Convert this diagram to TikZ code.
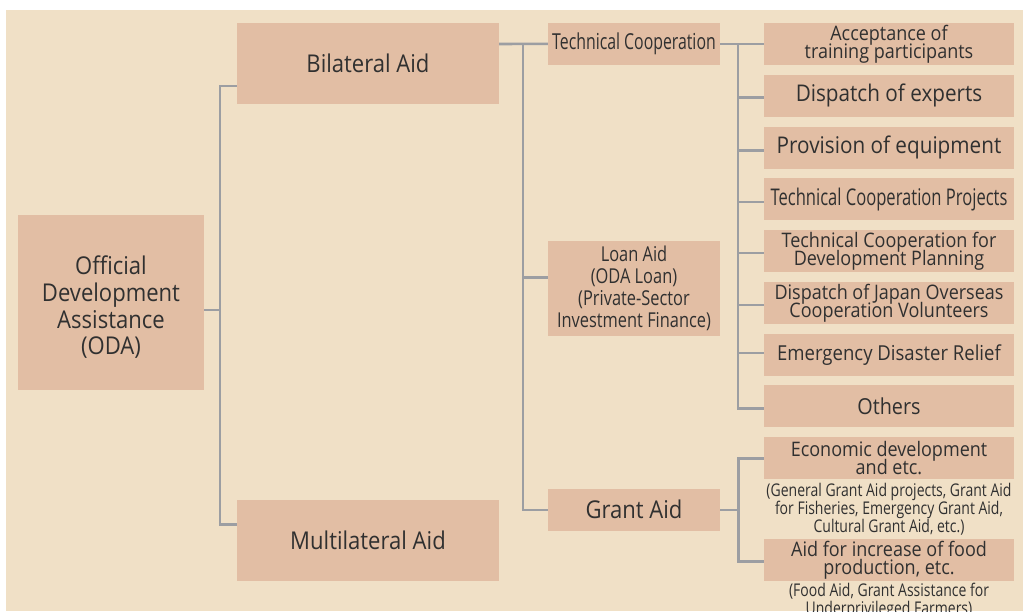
\documentclass[tikz,border=0pt]{standalone}
\usepackage{fontspec}
\setmainfont{Open Sans}[FakeStretch=0.9]
\newfontfamily\condfont{Open Sans}[FakeStretch=0.72]
\newfontfamily\notefont{Open Sans}[FakeStretch=0.8]

\definecolor{pagebg}{HTML}{F0E0C6}
\definecolor{boxfill}{HTML}{E2BEA4}
\definecolor{linec}{HTML}{9C9EA2}
\definecolor{txt}{HTML}{303030}

% fixed line spacing, even when ascenders and descenders collide
\newcommand{\tightlines}{\lineskiplimit=-40pt\lineskip=0pt}

\tikzset{
  box/.style={fill=boxfill, draw=none, inner sep=0pt, text=txt, align=center},
  lbox/.style={box, minimum width=262pt, minimum height=81pt},
  mbox/.style={box, minimum width=172pt},
  rbox/.style={box, minimum width=250pt, minimum height=41.7pt},
  note/.style={inner sep=0pt, text=txt, align=center},
  bigtext/.style={font=\fontsize{24.5}{26.7}\selectfont\tightlines},
  medtext/.style={font=\fontsize{23}{24}\selectfont},
  pairtext/.style={font=\fontsize{20}{18}\selectfont\tightlines},
  condtext/.style={font=\condfont\fontsize{22}{22}\selectfont},
  loantext/.style={font=\notefont\fontsize{20.5}{21.7}\selectfont\tightlines},
  notetext/.style={font=\notefont\fontsize{17.5}{18}\selectfont\tightlines},
  conn/.style={draw=linec, line width=2.6pt}
}

\begin{document}
\begin{tikzpicture}[x=1pt,y=-1pt]
\useasboundingbox (0,0) rectangle (1023,611);
\fill[white] (0,0) rectangle (1023,611);
\fill[pagebg] (6,10) rectangle (1023,611);

% root
\node[box, minimum width=186pt, minimum height=175pt] (oda) at (111,302.5) {};
\node[note, bigtext] (odatext) at ([yshift=-5pt]oda.center)
  {Official\\Development\\Assistance\\(ODA)};

% first level
\node[lbox, bigtext] (bil) at (368,63.5) {Bilateral Aid};
\node[lbox, bigtext] (mul) at (368,540.3) {Multilateral Aid};

% second level
\node[mbox, condtext, minimum height=41.7pt] (tc) at (634,43.8) {Technical Cooperation};
\node[mbox, loantext, minimum height=94.7pt] (loan) at (634,288.3)
  {Loan Aid\\(ODA Loan)\\(Private-Sector\\Investment Finance)};
\node[mbox, bigtext, minimum height=41.7pt] (grant) at (634,509.8) {Grant Aid};

% technical cooperation schemes
\node[rbox, pairtext] (acc) at (889,43.8) {Acceptance of\\training participants};
\node[rbox, medtext] (exp) at (889,95.8) {Dispatch of experts};
\node[rbox, font=\condfont\fontsize{23}{23}\selectfont] (tcp) at (889,199.1) {Technical Cooperation Projects};
\node[rbox, medtext] (equ) at (889,147.8) {Provision of equipment};
\node[rbox, pairtext] (tcdp) at (889,250.8) {Technical Cooperation for\\Development Planning};
\node[rbox, pairtext] (jocv) at (889,302.8) {Dispatch of Japan Overseas\\Cooperation Volunteers};
\node[rbox, font=\fontsize{20.6}{22}\selectfont] (emg) at (889,354.8) {Emergency Disaster Relief};
\node[rbox, font=\fontsize{22}{22}\selectfont] (oth) at (889,405.8) {Others};

% grant aid schemes
\node[rbox, pairtext] (eco) at (889,458) {Economic development\\and etc.};
\node[note, notetext] (econote) at (889,509)
  {(General Grant Aid projects, Grant Aid\\for Fisheries, Emergency Grant Aid,\\Cultural Grant Aid, etc.)};
\node[rbox, pairtext] (food) at (889,559.9) {Aid for increase of food\\production, etc.};
\node[note, notetext] (foodnote) at (889,601)
  {(Food Aid, Grant Assistance for\\Underprivileged Farmers)};

% attachment points and junctions of the trunks
\coordinate (odaout) at ([yshift=-7.5pt]oda.east);
\coordinate (bilin) at ([yshift=-22.5pt]bil.west);
\coordinate (mulin) at ([yshift=16pt]mul.west);
\coordinate (bilout) at ([yshift=19.5pt]bil.east);
\coordinate (loanin) at ([yshift=11pt]loan.west);
\coordinate (j1) at (219.8,310);
\coordinate (j2) at (523,43.8);
\coordinate (j3) at (738,43.8);
\coordinate (j4) at (738.5,509.8);

\coordinate (expin) at ([yshift=-1.5pt]exp.west);
\coordinate (equin) at ([yshift=-2.5pt]equ.west);
\coordinate (tcpin) at ([yshift=-3pt]tcp.west);
\coordinate (tcdpin) at ([yshift=-2pt]tcdp.west);
\coordinate (jocvin) at ([yshift=-2pt]jocv.west);
\coordinate (emgin) at ([yshift=2pt]emg.west);
\coordinate (othin) at ([yshift=-2.9pt]oth.west);
\coordinate (ecoin) at ([yshift=-0.3pt]eco.west);
\coordinate (foodin) at ([yshift=-1.8pt]food.west);

% ODA -> bilateral / multilateral
\draw[conn] (odaout) -- (j1);
\draw[conn] (bilin) -| (j1) |- (mulin);

% bilateral -> technical cooperation, loan aid, grant aid
\draw[conn] (bilout) -- (tc.west);
\draw[conn] (j2) |- (grant.west);
\draw[conn] (j2 |- loanin) -- (loanin);

% technical cooperation -> schemes
\draw[conn] (tc.east) -- (acc.west);
\draw[conn] (j3) |- (othin);
\foreach \t in {expin,equin,tcpin,tcdpin,jocvin,emgin}
  \draw[conn] (j3 |- \t) -- (\t);

% grant aid -> schemes
\draw[conn] (grant.east) -- (j4);
\draw[conn] (ecoin) -| (j4) |- (foodin);
\end{tikzpicture}
\end{document}
